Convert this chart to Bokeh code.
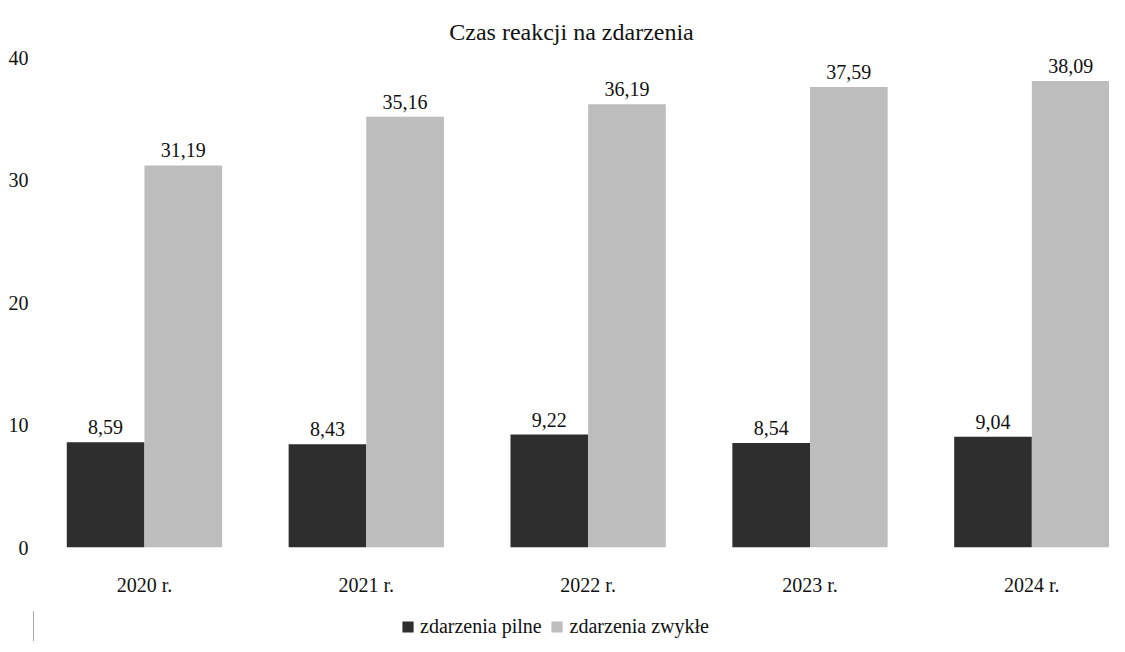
from bokeh.plotting import figure
from bokeh.layouts import column
from bokeh.models import ColumnDataSource, Range1d, Legend, LegendItem, FixedTicker
from bokeh.core.properties import value
from bokeh.embed import file_html
from bokeh.resources import INLINE

years = ["2020 r.", "2021 r.", "2022 r.", "2023 r.", "2024 r."]
pilne = [8.59, 8.43, 9.22, 8.54, 9.04]
zwykle = [31.19, 35.16, 36.19, 37.59, 38.09]
series_names = ["zdarzenia pilne", "zdarzenia zwykłe"]
colors = ["#2e2e2e", "#bdbdbd"]

def fmt(v):
    return f"{v:.2f}".replace(".", ",")

bw = 0.35
xc = [i + 0.5 for i in range(len(years))]
src = ColumnDataSource(dict(
    xc=xc,
    x1=[x - bw / 2 for x in xc], x2=[x + bw / 2 for x in xc],
    pilne=pilne, zwykle=zwykle,
    pl=[fmt(v) for v in pilne], zl=[fmt(v) for v in zwykle],
))

FONT = "Liberation Serif"
p = figure(x_range=Range1d(0, 4.85), y_range=Range1d(0, 40),
           frame_width=1076, frame_height=490,
           output_backend="svg", toolbar_location=None,
           min_border_left=33, min_border_right=0, min_border_top=57, min_border_bottom=64)
p.title.text = "Czas reakcji na zdarzenia"
p.title.align = "center"
p.title.text_font = FONT
p.title.text_font_size = "24px"
p.title.text_font_style = "normal"
p.title.text_color = "#111111"
p.title.standoff = 26

p.vbar(x="x1", top="pilne", width=bw, source=src, fill_color=colors[0], line_color=None)
p.vbar(x="x2", top="zwykle", width=bw, source=src, fill_color=colors[1], line_color=None)

for xcol, col, lab in [("x1", "pilne", "pl"), ("x2", "zwykle", "zl")]:
    p.text(x=xcol, y=col, text=lab, source=src,
           text_align="center", text_baseline="bottom", y_offset=-8,
           text_font=value(FONT), text_font_size="20px", text_color="#111111")

p.xgrid.visible = False
p.ygrid.visible = False
p.outline_line_color = None
for ax in (p.xaxis[0], p.yaxis[0]):
    ax.axis_line_color = None
    ax.major_tick_line_color = None
    ax.minor_tick_line_color = None
    ax.major_tick_out = 0
    ax.major_tick_in = 0
    ax.major_label_text_font = FONT
    ax.major_label_text_font_size = "20px"
    ax.major_label_text_color = "#111111"
p.yaxis.ticker = [0, 10, 20, 30, 40]
p.yaxis.major_label_standoff = 5
p.xaxis.ticker = FixedTicker(ticks=xc)
p.xaxis.major_label_overrides = {x: y for x, y in zip(xc, years)}
p.xaxis.major_label_standoff = 26

# separate strip holding the legend (its bars lie outside the visible range)
lf = figure(frame_width=1109, frame_height=30, output_backend="svg", toolbar_location=None,
            x_axis_type=None, y_axis_type=None,
            min_border_left=0, min_border_right=0, min_border_top=0, min_border_bottom=0,
            x_range=Range1d(100, 101), y_range=Range1d(0, 1))
lf.grid.visible = False
lf.outline_line_color = None
l1 = lf.vbar(x="x1", top="pilne", width=bw, source=src, fill_color=colors[0], line_color=None)
l2 = lf.vbar(x="x2", top="zwykle", width=bw, source=src, fill_color=colors[1], line_color=None)
legend = Legend(items=[LegendItem(label=series_names[0], renderers=[l1]),
                       LegendItem(label=series_names[1], renderers=[l2])],
                orientation="horizontal", location="center",
                label_text_font=FONT, label_text_font_size="20px",
                label_text_color="#111111", glyph_width=14, glyph_height=14,
                label_standoff=6, spacing=8, border_line_color=None,
                background_fill_alpha=0, padding=2, margin=0)
lf.add_layout(legend)

layout = column(p, lf, spacing=0)
open("out.html", "w").write(file_html(layout, INLINE))
